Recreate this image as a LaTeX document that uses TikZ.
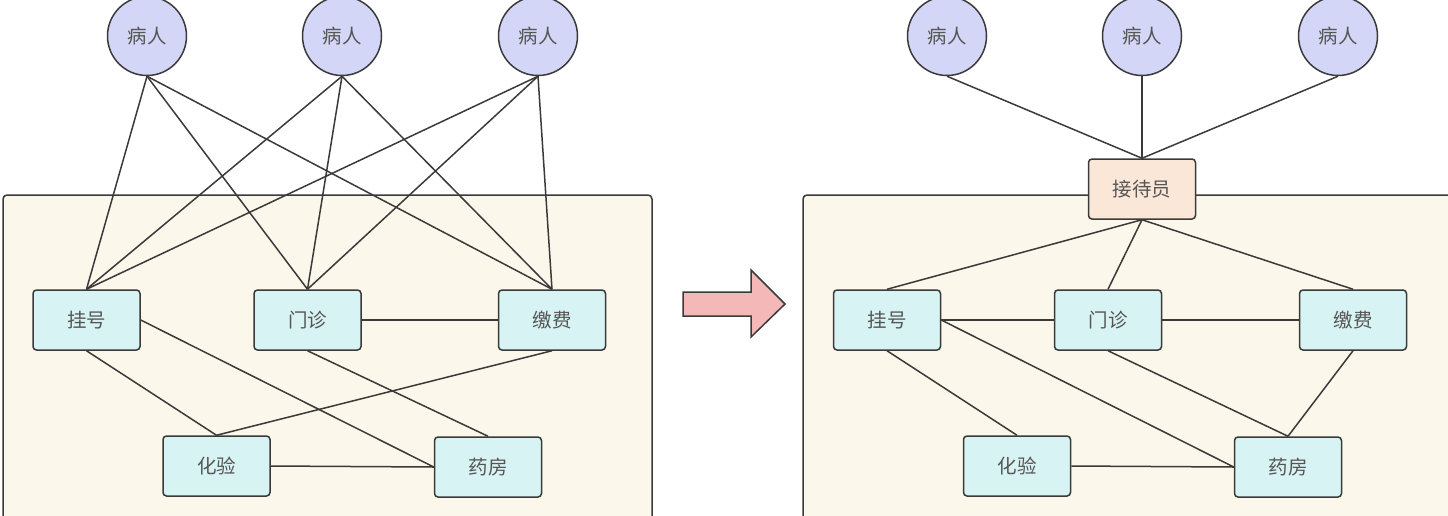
\documentclass[tikz,border=0pt]{standalone}
\usepackage{fontspec}
\newfontfamily\cjk{Noto Sans CJK SC}
\definecolor{linec}{HTML}{3A3A3A}
\definecolor{txtc}{HTML}{555555}
\definecolor{patfill}{HTML}{D3D6F6}
\definecolor{boxfill}{HTML}{D8F3F3}
\definecolor{contfill}{HTML}{FBF7EA}
\definecolor{recfill}{HTML}{FBE7D8}
\definecolor{arrfill}{HTML}{F4B8B8}
\tikzset{
  patient/.style={circle, draw=linec, fill=patfill, line width=1.5pt, minimum size=79pt, inner sep=0pt, font=\cjk\fontsize{19.5}{19.5}\selectfont, text=txtc},
  dept/.style={rectangle, rounded corners=3.5pt, draw=linec, fill=boxfill, line width=1.5pt, minimum width=107pt, minimum height=60pt, inner sep=0pt, font=\cjk\fontsize{19.5}{19.5}\selectfont, text=txtc},
  recep/.style={dept, fill=recfill},
  container/.style={draw=linec, fill=contfill, line width=1.5pt, rounded corners=4pt},
  conn/.style={draw=linec, line width=1.5pt},
  bigarrow/.style={draw=linec, fill=arrfill, line width=1.5pt, line join=miter}
}
\begin{document}
\begin{tikzpicture}[x=1pt, y=-1pt]
\useasboundingbox (0,0) rectangle (1448,515);
\clip (0,0) rectangle (1448,515);
% containers
\draw[container] (3,195) rectangle (652,545);
\draw[container] (803,195) rectangle (1470,545);
% arrow
\draw[bigarrow] (683,292) -- (751,292) -- (751,270) -- (785,304) -- (751,337) -- (751,316) -- (683,316) -- cycle;
% left panel
\node[patient] (p1) at (147,36) {病人};
\node[patient] (p2) at (342,36) {病人};
\node[patient] (p3) at (538,36) {病人};
\node[dept] (gh1) at (86.5,320) {挂号};
\node[dept] (mz1) at (307.5,320) {门诊};
\node[dept] (jf1) at (552,320) {缴费};
\node[dept] (hy1) at (216.5,466) {化验};
\node[dept] (yf1) at (488,467) {药房};
\foreach \p in {p1,p2,p3}{
  \foreach \d in {gh1,mz1,jf1}{
    \draw[conn] (\p.south) -- (\d.north);
  }
}
\draw[conn] (mz1.east) -- (jf1.west);
\draw[conn] (gh1.east) -- (yf1.west);
\draw[conn] (gh1.south) -- (hy1.north);
\draw[conn] (jf1.south) -- (hy1.north);
\draw[conn] (mz1.south) -- (yf1.north);
\draw[conn] (hy1.east) -- (yf1.west);
% right panel
\node[patient] (p4) at (947,36) {病人};
\node[patient] (p5) at (1142,36) {病人};
\node[patient] (p6) at (1338,36) {病人};
\node[recep] (jdy) at (1142,189) {接待员};
\node[dept] (gh2) at (887,320) {挂号};
\node[dept] (mz2) at (1108,320) {门诊};
\node[dept] (jf2) at (1353,320) {缴费};
\node[dept] (hy2) at (1017,466) {化验};
\node[dept] (yf2) at (1288,467) {药房};
\draw[conn] (p4.south) -- (jdy.north);
\draw[conn] (p5.south) -- (jdy.north);
\draw[conn] (p6.south) -- (jdy.north);
\draw[conn] (jdy.south) -- (gh2.north);
\draw[conn] (jdy.south) -- (mz2.north);
\draw[conn] (jdy.south) -- (jf2.north);
\draw[conn] (gh2.east) -- (mz2.west);
\draw[conn] (mz2.east) -- (jf2.west);
\draw[conn] (gh2.east) -- (yf2.west);
\draw[conn] (gh2.south) -- (hy2.north);
\draw[conn] (mz2.south) -- (yf2.north);
\draw[conn] (jf2.south) -- (yf2.north);
\draw[conn] (hy2.east) -- (yf2.west);
\end{tikzpicture}
\end{document}
